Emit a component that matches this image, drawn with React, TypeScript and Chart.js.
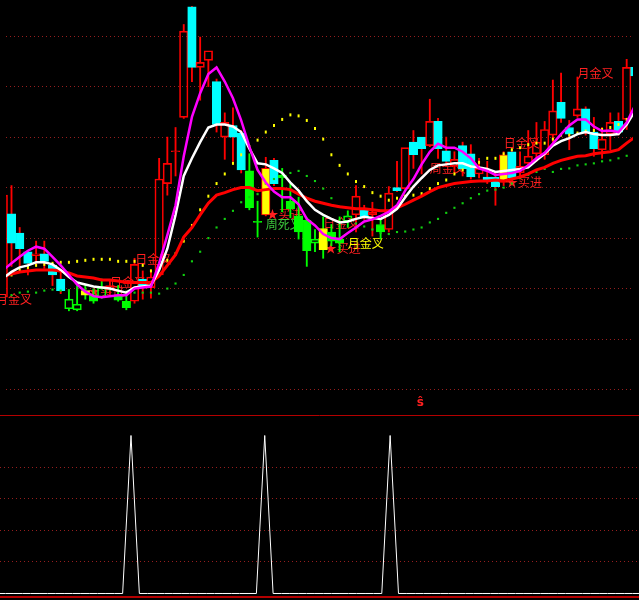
import React, { useEffect, useRef } from 'react';
import { Chart, registerables } from 'chart.js';

Chart.register(...registerables);

// ---------- data (day index of first entry = -1, partly hidden at the left edge) ----------
const FIRST_DAY = -1;

const candleType = [
  'R', 'C', 'C', 'C', 'R', 'C', 'C', 'C', 'g', 'g', 'y', 'G', 'g', 'R', 'G', 'G',
  'R', 'C', 'R', 'R', 'R', 'R', 'R', 'C', 'R', 'R', 'C', 'R', 'C', 'C', 'G', 'G',
  'Y', 'C', 'G', 'G', 'G', 'G', 'g', 'y', 'G', 'G', 'g', 'R', 'C', 'R', 'G', 'R',
  'C', 'R', 'C', 'C', 'R', 'C', 'C', 'R', 'C', 'C', 'R', 'C', 'C', 'Y', 'C', 'R',
  'R', 'R', 'R', 'R', 'C', 'C', 'R', 'C', 'C', 'R', 'R', 'C', 'R', 'C'
];

const openPrice = [
  14.83, 16.48, 16.10, 15.73, 15.65, 15.69, 15.46, 15.19, 14.60, 14.58, 14.87, 14.87, 14.83, 14.98, 14.87, 14.75,
  14.75, 15.19, 15.02, 15.27, 17.08, 17.71, 18.39, 20.58, 19.38, 19.52, 19.10, 18.00, 18.23, 18.08, 17.33, 16.33,
  16.46, 17.54, 17.25, 16.73, 16.44, 16.35, 15.90, 15.77, 16.12, 15.98, 16.33, 16.46, 16.58, 16.46, 16.27, 16.17,
  17.00, 16.98, 17.90, 18.00, 17.83, 18.31, 17.73, 17.42, 17.83, 17.67, 17.27, 17.21, 17.21, 17.10, 17.71, 17.29,
  17.48, 17.67, 17.65, 18.04, 18.69, 18.19, 18.42, 18.56, 18.10, 17.75, 18.06, 18.31, 18.35, 19.38
];
const highPrice = [
  17.04, 17.04, 16.21, 15.75, 15.94, 15.94, 15.50, 15.37, 14.98, 15.06, 15.08, 14.98, 15.19, 15.15, 15.06, 14.89,
  15.60, 15.35, 15.37, 17.58, 18.00, 18.19, 20.23, 20.60, 19.98, 19.71, 19.15, 18.48, 18.58, 18.13, 17.67, 16.73,
  17.60, 17.58, 17.38, 17.08, 16.81, 16.40, 16.17, 16.42, 16.27, 16.42, 16.54, 17.04, 16.65, 16.71, 16.37, 17.02,
  17.52, 17.79, 18.13, 18.00, 18.75, 18.37, 18.00, 17.71, 17.90, 17.85, 17.58, 17.52, 17.29, 17.71, 17.75, 17.71,
  18.13, 18.29, 18.31, 19.13, 19.27, 18.33, 19.19, 18.60, 18.39, 18.19, 18.48, 18.48, 19.54, 19.58
];
const lowPrice = [
  14.77, 15.44, 15.44, 15.27, 15.46, 15.40, 15.06, 14.90, 14.56, 14.56, 14.79, 14.71, 14.81, 14.87, 14.75, 14.58,
  14.71, 14.79, 14.81, 15.25, 16.85, 17.23, 18.37, 19.10, 18.73, 19.00, 18.10, 17.56, 17.52, 17.29, 16.56, 16.02,
  16.44, 17.04, 16.52, 16.40, 15.98, 15.44, 15.73, 15.60, 15.85, 15.73, 16.21, 16.12, 16.37, 16.04, 15.98, 16.12,
  16.92, 16.96, 17.38, 17.27, 17.81, 17.58, 17.42, 17.29, 17.23, 17.17, 17.19, 17.08, 16.65, 17.04, 17.13, 17.17,
  17.42, 17.52, 17.56, 17.90, 18.29, 17.75, 18.39, 18.04, 17.62, 17.58, 17.75, 18.04, 18.15, 19.15
];
const closePrice = [
  16.85, 15.90, 15.79, 15.50, 15.69, 15.54, 15.27, 14.96, 14.79, 14.69, 14.96, 14.75, 15.02, 15.06, 14.77, 14.62,
  15.48, 15.04, 15.23, 17.17, 17.48, 17.73, 20.10, 19.38, 19.48, 19.71, 18.25, 18.29, 18.00, 17.35, 16.60, 16.31,
  17.38, 17.08, 17.19, 16.58, 16.12, 15.75, 15.98, 16.19, 15.94, 15.90, 16.44, 16.83, 16.42, 16.52, 16.12, 16.89,
  16.94, 17.79, 17.65, 17.77, 18.31, 17.77, 17.52, 17.56, 17.37, 17.21, 17.38, 17.13, 17.02, 17.65, 17.19, 17.42,
  17.62, 17.90, 18.15, 18.52, 18.37, 18.06, 18.56, 18.10, 17.77, 17.96, 18.29, 18.10, 19.38, 19.21
];

// moving averages (same days as candles)
const maFast = [
  15.37, 15.50, 15.63, 15.75, 15.83, 15.79, 15.63, 15.46, 15.27, 15.08, 14.94, 14.85, 14.83, 14.85, 14.87, 14.87,
  15.00, 15.02, 15.04, 15.50, 16.06, 16.65, 17.62, 18.40, 18.87, 19.25, 19.38, 19.10, 18.77, 18.33, 17.81, 17.35,
  17.10, 16.92, 16.81, 16.81, 16.67, 16.38, 16.25, 16.08, 16.00, 15.98, 16.10, 16.21, 16.33, 16.37, 16.44, 16.52,
  16.65, 16.94, 17.17, 17.46, 17.71, 17.87, 17.79, 17.79, 17.71, 17.58, 17.38, 17.33, 17.25, 17.27, 17.29, 17.33,
  17.44, 17.58, 17.69, 17.87, 18.06, 18.23, 18.35, 18.35, 18.21, 18.12, 18.13, 18.10, 18.29, 18.62
];
const maMid = [
  15.21, 15.33, 15.42, 15.46, 15.52, 15.52, 15.48, 15.37, 15.23, 15.12, 15.08, 15.04, 15.02, 15.00, 14.96, 14.92,
  15.02, 15.04, 15.06, 15.37, 15.79, 16.46, 17.23, 17.58, 17.90, 18.19, 18.25, 18.25, 18.21, 18.10, 17.77, 17.48,
  17.46, 17.38, 17.29, 17.10, 16.94, 16.73, 16.56, 16.46, 16.38, 16.31, 16.33, 16.38, 16.42, 16.40, 16.38, 16.46,
  16.58, 16.81, 17.02, 17.19, 17.35, 17.44, 17.46, 17.48, 17.48, 17.42, 17.40, 17.37, 17.31, 17.33, 17.35, 17.37,
  17.40, 17.54, 17.67, 17.83, 17.92, 17.98, 18.06, 18.10, 18.06, 18.04, 18.04, 18.06, 18.25, 18.52
];
const maSlow = [
  15.23, 15.29, 15.33, 15.35, 15.37, 15.37, 15.37, 15.35, 15.31, 15.25, 15.23, 15.21, 15.17, 15.17, 15.15, 15.12,
  15.12, 15.12, 15.12, 15.25, 15.46, 15.67, 16.02, 16.21, 16.46, 16.69, 16.85, 16.90, 16.96, 17.00, 17.00, 16.94,
  16.96, 16.98, 16.98, 16.96, 16.87, 16.79, 16.73, 16.69, 16.65, 16.62, 16.60, 16.58, 16.58, 16.56, 16.54, 16.54,
  16.60, 16.67, 16.75, 16.83, 16.92, 17.00, 17.04, 17.08, 17.10, 17.12, 17.13, 17.13, 17.15, 17.13, 17.17, 17.21,
  17.27, 17.35, 17.40, 17.48, 17.54, 17.58, 17.62, 17.63, 17.67, 17.69, 17.71, 17.75, 17.88, 18.00
];

// dotted band lines (days 0..75)
const BAND_FIRST_DAY = 0;
const bandUpper = [
  15.27, 15.37, 15.42, 15.46, 15.48, 15.50, 15.52, 15.52, 15.54, 15.56,
  15.58, 15.58, 15.58, 15.54, 15.54, 15.54, 15.46, 15.35, 15.40, 15.56,
  15.69, 15.94, 16.25, 16.56, 16.83, 17.08, 17.27, 17.48, 17.65, 17.81,
  17.94, 18.10, 18.23, 18.35, 18.44, 18.42, 18.33, 18.17, 17.96, 17.65,
  17.44, 17.27, 17.12, 17.02, 16.90, 16.83, 16.75, 16.79, 16.83, 16.85,
  16.88, 16.98, 17.08, 17.15, 17.27, 17.35, 17.42, 17.50, 17.58, 17.58,
  17.67, 17.75, 17.79, 17.85, 17.88, 17.88, 17.96, 18.04, 18.04, 18.08,
  18.12, 18.13, 18.15, 18.19, 18.25, 18.35
];
const bandLower = [
  14.87, 14.92, 14.94, 14.92, 14.96, 14.98, 14.96, 14.96, 14.98, 14.98,
  14.98, 15.00, 14.98, 14.96, 14.94, 14.92, 14.92, 14.92, 14.90, 15.00,
  15.10, 15.27, 15.54, 15.73, 16.00, 16.21, 16.38, 16.54, 16.71, 16.81,
  16.87, 17.08, 17.17, 17.21, 17.29, 17.33, 17.23, 17.13, 16.98, 16.79,
  16.62, 16.44, 16.29, 16.23, 16.17, 16.10, 16.08, 16.12, 16.13, 16.17,
  16.21, 16.31, 16.38, 16.50, 16.60, 16.69, 16.79, 16.87, 16.94, 16.96,
  17.00, 17.08, 17.19, 17.25, 17.31, 17.37, 17.31, 17.37, 17.38, 17.44,
  17.46, 17.48, 17.52, 17.54, 17.58, 17.63
];

// lower panel signal (same days as candles)
const signalS = [
  0, 0, 0, 0, 0, 0, 0, 0, 0, 0, 0, 0, 0, 0, 0, 0, 5,
  0, 0, 0, 0, 0, 0, 0, 0, 0, 0, 0, 0, 0, 0, 0, 5,
  0, 0, 0, 0, 0, 0, 0, 0, 0, 0, 0, 0, 0, 0, 5,
  0, 0, 0, 0, 0, 0, 0, 0, 0, 0, 0, 0, 0, 0, 0, 0, 0, 0, 0, 0, 0, 0, 0, 0, 0, 0, 0, 0, 0, 0
];

// grid levels
const priceGrid = [13, 14, 15, 16, 17, 18, 19, 20];
const subGrid = [-0.095, 1, 2, 3, 4, 5.6487];

// signal texts
const labelText = ['月金叉', '★买进', '日金叉', '日金叉', '★买进', '周死叉', '日金叉', '★买进', '月金叉', '周金叉', '日金叉', '★买进', '月金叉', 'ŝ'];
const labelDay = [-1.9, 9.35, 12.0, 15.1, 31.1, 31.0, 38.0, 38.2, 41.0, 51.0, 60.0, 60.3, 69.0, 49.4];
const labelPrice = [14.79, 14.94, 15.13, 15.58, 16.46, 16.27, 16.29, 15.79, 15.90, 17.38, 17.88, 17.10, 19.27, 12.73];
const labelColor = ['#ff2020', '#ff2020', '#ff2020', '#ff2020', '#ff2020', '#3cc83c', '#ff2020', '#ff2020', '#ffff00', '#ff2020', '#ff2020', '#ff2020', '#ff2020', '#ff2020'];

// ---------- styles ----------
const X_MIN = -0.67;
const X_MAX = 75.77;
const PRICE_MIN = 12.6154;
const PRICE_MAX = 20.5962;
const SUB_MIN = -0.2057;
const SUB_MAX = 5.6487;

const BODY_FILL: any = { R: 'rgba(0,0,0,0)', C: '#00ffff', G: '#00ff00', g: 'rgba(0,0,0,0)', Y: '#ffff00', y: '#ffff00' };
const BODY_EDGE: any = { R: '#ff0000', C: '#00ffff', G: '#00ff00', g: '#00ff00', Y: '#ff0000', y: '#ffff00' };
const WICK: any = { R: '#ff0000', C: '#ff0000', G: '#00ff00', g: '#00ff00', Y: '#ff0000', y: '#00ff00' };
const GRID_RED = 'rgb(150,30,30)';

const textPlugin = {
  id: 'signalText',
  beforeDatasetsDraw(chart: any) {
    const { ctx } = chart;
    const xs = chart.scales.x;
    const ys = chart.scales.y;
    ctx.save();
    ctx.textBaseline = 'middle';
    ctx.textAlign = 'left';
    labelText.forEach((t, k) => {
      ctx.font = t === 'ŝ' ? 'bold 12px "DejaVu Sans"' : '12px "Noto Sans CJK SC", sans-serif';
      ctx.fillStyle = labelColor[k];
      ctx.fillText(t, xs.getPixelForValue(labelDay[k]), ys.getPixelForValue(labelPrice[k]));
    });
    ctx.restore();
  }
};

export default function App() {
  const mainRef = useRef<HTMLCanvasElement>(null);
  const subRef = useRef<HTMLCanvasElement>(null);

  useEffect(() => {
    document.body.style.margin = '0';
    document.body.style.background = '#000';

    const days = openPrice.map((_, k) => FIRST_DAY + k);
    const upperWick: any[] = [];
    const lowerWick: any[] = [];
    const bodies: any[] = [];
    days.forEach((d, k) => {
      const top = Math.max(openPrice[k], closePrice[k]);
      const bot = Math.min(openPrice[k], closePrice[k]);
      const t = candleType[k];
      if (highPrice[k] > top) upperWick.push({ x: d, y: [top, highPrice[k]], t });
      if (lowPrice[k] < bot) lowerWick.push({ x: d, y: [lowPrice[k], bot], t });
      bodies.push({ x: d, y: [openPrice[k], closePrice[k]], t });
    });
    const line = (arr: number[]) => arr.map((v, k) => ({ x: FIRST_DAY + k, y: v }));
    const band = (arr: number[]) => arr.map((v, k) => ({ x: BAND_FIRST_DAY + k, y: v }));

    const wickDs = (data: any[]) => ({
      type: 'bar',
      data,
      grouped: false,
      barThickness: 1.2,
      borderWidth: 0,
      backgroundColor: (c: any) => (c.raw ? WICK[c.raw.t] : '#ff0000'),
      order: 10
    });

    const main = new Chart(mainRef.current as HTMLCanvasElement, {
      type: 'bar',
      data: {
        datasets: [
          wickDs(upperWick),
          wickDs(lowerWick),
          {
            type: 'bar',
            data: bodies,
            grouped: false,
            barThickness: 8.5,
            borderWidth: 1,
            borderSkipped: false,
            backgroundColor: (c: any) => (c.raw ? BODY_FILL[c.raw.t] : 'rgba(0,0,0,0)'),
            borderColor: (c: any) => (c.raw ? BODY_EDGE[c.raw.t] : '#ff0000'),
            order: 9
          },
          {
            type: 'line',
            data: band(bandUpper),
            showLine: false,
            pointStyle: 'line',
            pointRotation: 90,
            pointRadius: 1.5,
            pointBorderWidth: 2,
            pointBorderColor: '#ffff00',
            pointBackgroundColor: '#ffff00',
            order: 8
          },
          {
            type: 'line',
            data: band(bandLower),
            showLine: false,
            pointStyle: 'rect',
            pointRadius: 1.5,
            pointBorderWidth: 0,
            pointBackgroundColor: '#10d010',
            order: 8
          },
          { type: 'line', data: line(maSlow), borderColor: '#ff0000', borderWidth: 3, pointRadius: 0, tension: 0, order: 7 },
          { type: 'line', data: line(maMid), borderColor: '#ffffff', borderWidth: 2.5, pointRadius: 0, tension: 0, order: 6 },
          { type: 'line', data: line(maFast), borderColor: '#ff00ff', borderWidth: 2.5, pointRadius: 0, tension: 0, order: 5 }
        ] as any
      },
      options: {
        responsive: false,
        animation: false,
        events: [],
        layout: { padding: 0 },
        plugins: { legend: { display: false }, tooltip: { enabled: false } },
        scales: {
          x: { type: 'linear', min: X_MIN, max: X_MAX, display: false, offset: false },
          y: {
            type: 'linear',
            min: PRICE_MIN,
            max: PRICE_MAX,
            position: 'left',
            afterBuildTicks: (axis: any) => { axis.ticks = priceGrid.map((v) => ({ value: v })); },
            ticks: { display: false },
            grid: { color: GRID_RED, lineWidth: 1, drawTicks: false },
            border: { display: false, dash: [1, 3] }
          }
        }
      } as any,
      plugins: [textPlugin]
    });

    const lastSub = subGrid.length - 1;
    const sub = new Chart(subRef.current as HTMLCanvasElement, {
      type: 'line',
      data: {
        datasets: [
          { data: line(signalS), borderColor: '#ffffff', borderWidth: 1, pointRadius: 0, tension: 0 }
        ] as any
      },
      options: {
        responsive: false,
        animation: false,
        events: [],
        layout: { padding: 0 },
        plugins: { legend: { display: false }, tooltip: { enabled: false } },
        scales: {
          x: { type: 'linear', min: X_MIN, max: X_MAX, display: false },
          y: {
            type: 'linear',
            min: SUB_MIN,
            max: SUB_MAX,
            position: 'left',
            afterBuildTicks: (axis: any) => { axis.ticks = subGrid.map((v) => ({ value: v })); },
            ticks: { display: false },
            grid: {
              drawTicks: false,
              color: (c: any) => (c.index === 0 || c.index === lastSub ? '#b40000' : GRID_RED),
              lineWidth: (c: any) => (c.index === 0 ? 2 : 1)
            },
            border: {
              display: false,
              dash: (c: any) => (c.index === 0 || c.index === lastSub ? [] : [1, 3])
            }
          }
        }
      } as any
    });

    return () => {
      main.destroy();
      sub.destroy();
    };
  }, []);

  return (
    <div style={{ position: 'absolute', left: 0, top: 0, width: 639, height: 600, background: '#000', overflow: 'hidden' }}>
      <canvas ref={mainRef} width={639} height={415} style={{ position: 'absolute', left: 0, top: 0, display: 'block' }} />
      <canvas ref={subRef} width={639} height={185} style={{ position: 'absolute', left: 0, top: 415, display: 'block' }} />
    </div>
  );
}
